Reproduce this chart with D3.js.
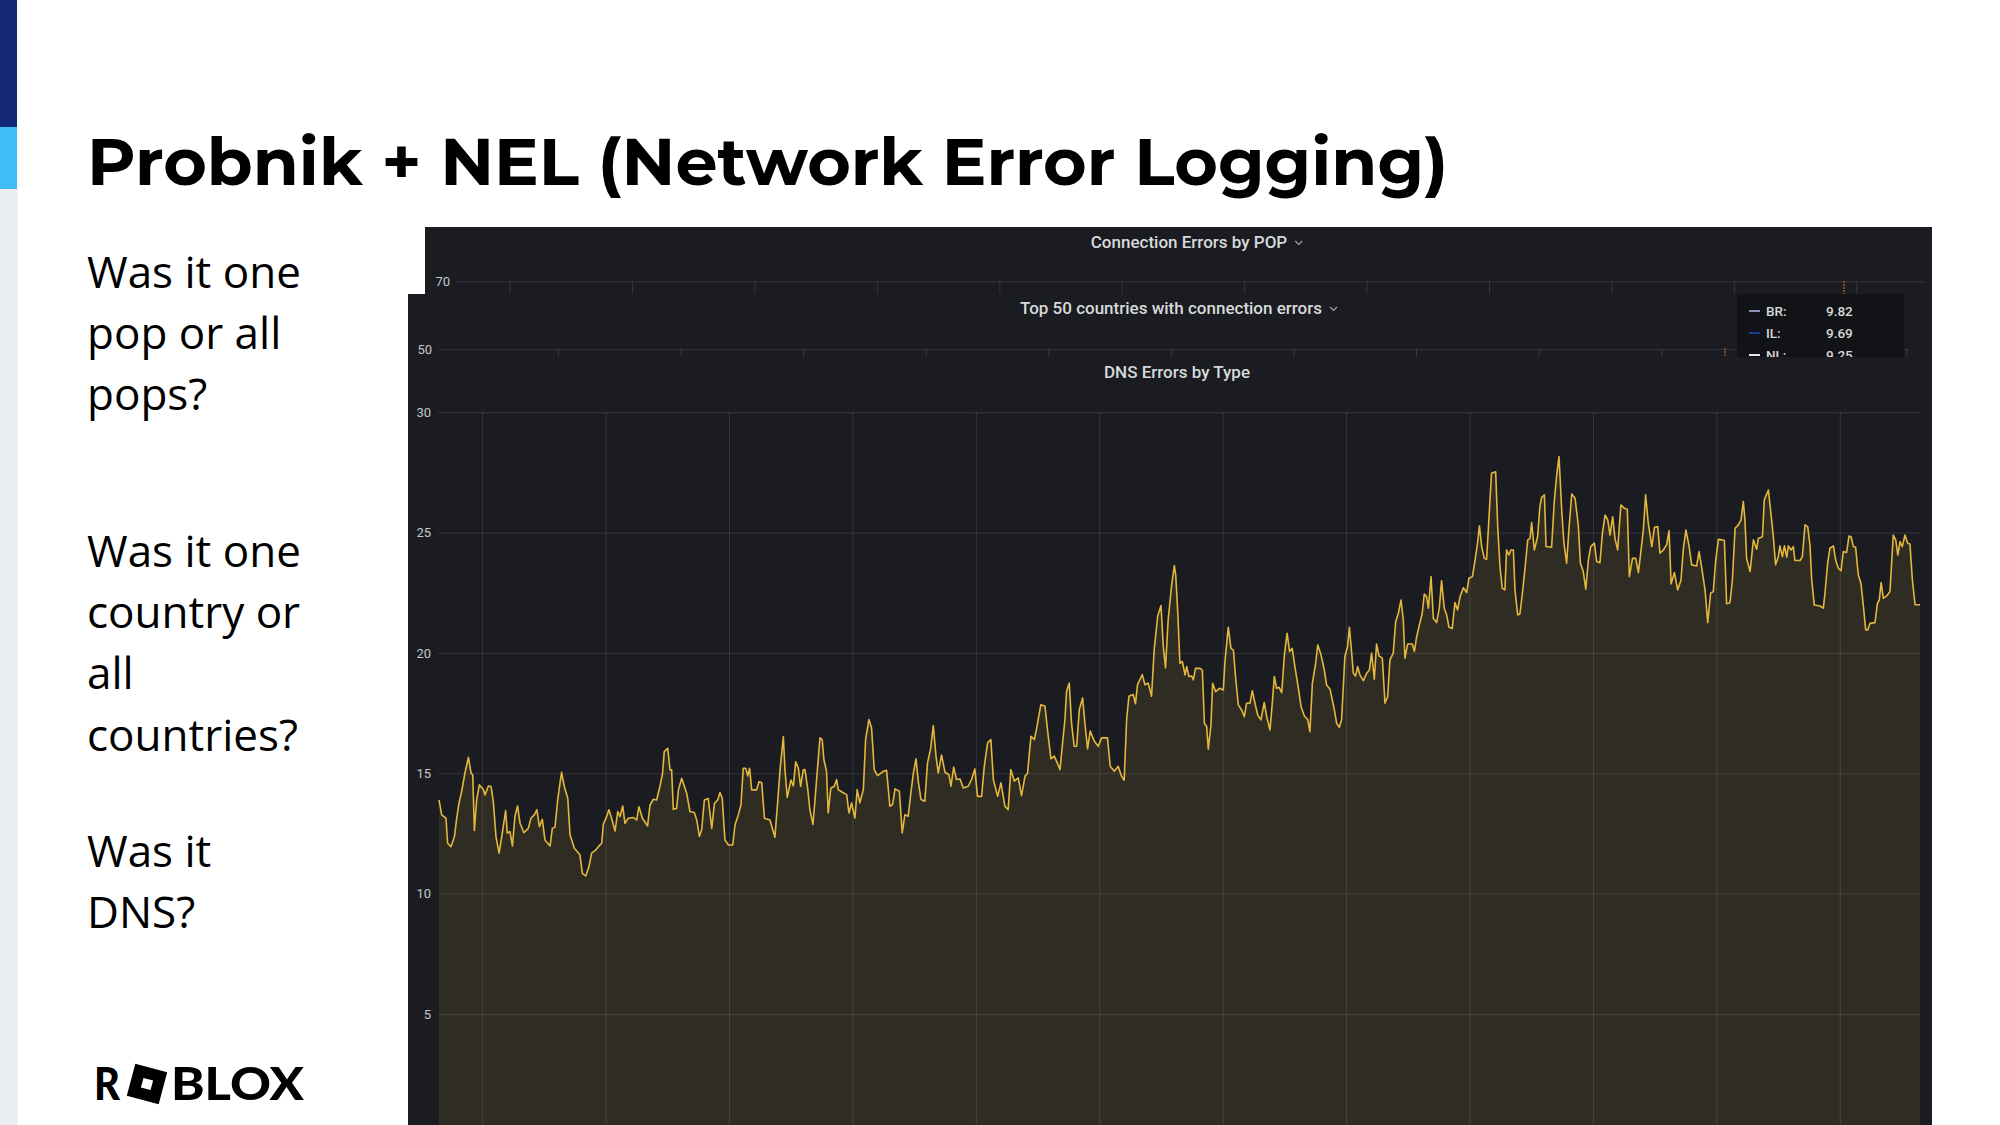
<!DOCTYPE html>
<html><head><meta charset="utf-8">
<script src="https://cdn.jsdelivr.net/npm/d3@7"></script>
<style>html,body{margin:0;padding:0;background:#fff;overflow:hidden}svg{display:block}</style>
</head><body>
<svg id="c" width="2000" height="1125"></svg>
<script>
// ---------- data ----------
const slideTitle = "Probnik + NEL (Network Error Logging)";
const questionBlocks = [["Was it one","pop or all","pops?"],["Was it one","country or","all","countries?"],["Was it","DNS?"]];
const panelTitles = ["Connection Errors by POP","Top 50 countries with connection errors","DNS Errors by Type"];
const popTicks = [70];
const countryTicks = [50];
const dnsTicks = [5,10,15,20,25,30];
const legendLabels = ["GB:","BR:","IL:","NL:"];
const legendValues = ["10.12","9.82","9.69","9.25"];
const legendColors = ["#6e9fd0","#8f8fb8","#1f3a8f","#e8e8e8"];
// DNS errors series: minutes after window start, values
const dnsMinutes = [0,1.3,3.4,4.2,5.8,7.5,8.6,9.7,11.0,12.6,14.3,15.6,16.4,17.2,18.3,19.6,21.6,22.4,24.0,25.3,26.4,27.7,29.2,30.5,32.4,33.2,34.5,35.7,36.9,38.2,39.4,41.3,43.4,44.7,46.3,47.6,48.8,50.2,51.5,54.0,55.1,56.4,57.7,58.8,59.6,60.9,62.6,63.7,65.8,68.5,69.7,71.3,72.9,74.2,76.2,77.8,79.1,79.9,81.5,82.6,83.9,85.6,86.9,88.0,89.3,90.4,92.0,94.5,96.1,97.2,98.9,101.4,102.6,104.2,105.8,107.4,108.7,109.5,111.2,112.3,113.1,113.9,115.5,116.4,118.0,119.3,120.4,122.0,124.1,125.3,126.6,127.7,129.0,130.9,132.6,133.9,135.5,136.6,137.7,139.0,140.7,142.8,143.9,145.5,146.8,147.9,149.1,150.1,151.0,152.0,154.4,155.6,156.9,158.2,160.9,163.3,164.6,165.8,167.4,168.2,169.3,171.1,172.3,173.4,174.7,175.8,177.1,
177.9,179.2,180.3,181.8,182.8,184.1,185.2,186.3,187.1,188.4,189.2,190.5,192.2,193.3,194.1,196.1,198.2,199.3,200.6,202.2,203.3,204.6,206.3,207.4,209.0,210.3,211.6,213.2,216.0,217.6,219.2,220.5,221.7,223.8,225.2,226.5,228.1,229.4,230.6,231.9,233.0,234.3,236.2,237.5,239.0,240.3,241.6,242.7,244.3,246.0,247.9,248.9,250.2,251.6,253.3,254.9,257.3,258.9,260.5,261.8,263.8,265.1,266.7,268.3,269.5,271.6,273.2,275.1,276.7,278.0,279.7,281.6,283.2,284.9,286.1,287.8,289.4,290.5,292.6,294.6,295.9,297.5,299.1,300.6,301.9,303.0,304.3,305.1,306.4,307.5,308.8,310.0,311.3,312.9,314.0,315.3,316.6,318.6,320.5,322.1,325.0,326.3,328.3,330.2,331.8,333.1,334.3,335.4,337.5,338.6,339.6,341.9,343.2,344.8,346.4,347.7,349.4,351.0,352.1,353.2,354.5,356.2,357.5,358.2,359.2,360.2,
361.4,362.7,363.5,364.6,365.9,366.7,367.8,370.0,371.1,372.1,373.2,374.0,375.3,376.1,377.6,379.4,381.3,382.1,383.7,385.0,386.2,387.3,388.6,390.2,391.5,392.6,394.3,395.4,396.7,398.0,399.6,401.2,402.4,404.0,405.1,406.1,407.2,408.4,409.7,411.0,412.3,413.5,414.8,416.1,417.8,419.1,420.7,422.3,423.4,424.6,426.2,427.2,428.8,430.4,431.5,433.2,435.3,436.4,437.7,438.8,440.4,441.7,442.6,443.7,444.5,445.6,446.6,447.7,449.4,451.0,452.3,453.4,454.7,455.8,457.0,458.6,459.9,461.2,462.3,463.9,465.1,466.4,467.7,468.8,469.6,470.9,473.2,474.2,475.3,476.9,478.0,479.0,480.1,481.0,482.3,483.4,485.0,486.3,487.4,488.7,489.9,491.0,492.6,493.9,495.2,496.4,498.0,499.6,500.7,502.4,503.6,504.9,505.8,506.9,508.2,509.3,510.4,511.7,513.7,514.7,515.8,516.9,518.2,519.0,520.2,521.1,522.3,523.1,524.4,525.5,526.7,527.9,529.3,530.4,531.2,532.5,534.1,535.2,536.1,537.4,538.2,540.9,
542.2,543.4,544.5,545.0,545.8,546.9,548.2,549.4,550.7,552.3,553.9,554.9,556.3,557.5,558.8,559.9,561.7,562.8,564.4,565.6,566.9,568.2,569.3,570.6,571.7,573.0,574.6,576.3,577.7,578.7,580.2,581.8,583.1,584.2,585.5,586.6,587.9,589.6,590.9,592.5,593.6,595.2,596.8,598.0,599.0,600.6,602.2,603.8,604.9,606.2,607.7,609.0,611.4,612.6,613.9,615.5,616.8,618.2,619.5,620.7,622.0,623.6,624.9,626.0,627.6,628.8,630.1,631.7,633.0,634.1,634.9,635.7,637.4,639.0,640.6,641.4,643.4,644.3,646.3,647.6,648.7,649.8,651.1,651.9,653.1,654.1,655.2,656.0,657.3,658.4,659.2,661.7,662.8,664.1,665.4,666.5,667.3,668.6,671.4,673.0,673.8,675.1,676.2,677.9,679.0,680.3,681.6,682.7,684.3,685.5,686.5,687.6,688.7,690.0,691.3,692.5,693.6,694.6,695.7,698.1,699.3,700.2,701.1,702.2,703.8,705.4,707.0,708.2,709.2,710.3,711.4,712.7,714.0,715.1,716.3,717.6,720.0];
const dnsValues = [13.89,13.27,13.13,12.09,11.95,12.37,13.13,13.75,14.24,15.0,15.66,15.0,14.93,12.62,13.89,14.52,14.31,14.1,14.47,14.45,13.82,12.37,11.68,12.37,13.45,12.51,12.58,11.98,13.2,13.64,12.92,12.53,12.71,13.13,13.27,13.48,12.78,13.09,12.23,11.98,12.71,12.76,13.89,14.58,15.04,14.45,13.96,12.44,11.88,11.61,10.84,10.73,11.12,11.68,11.81,11.98,12.09,12.89,13.2,13.48,13.13,12.6,13.41,13.2,13.64,12.92,13.13,13.16,13.06,13.61,13.13,12.81,13.68,13.92,13.89,14.45,15.0,15.9,16.04,15.14,15.14,13.5,13.54,14.31,14.79,14.45,14.17,13.41,13.37,13.06,12.37,12.65,13.89,13.95,12.71,13.75,13.89,14.2,13.96,12.23,12.02,12.02,12.85,13.27,13.68,15.21,15.21,14.89,15.21,14.31,14.31,14.65,14.61,13.13,13.06,12.34,13.75,15.14,16.52,15.14,14.0,14.72,14.47,15.48,15.21,14.45,15.14,
15.15,14.39,13.49,12.87,13.91,15.29,16.47,16.4,15.57,15.08,13.35,14.39,14.46,14.74,14.32,14.21,14.11,13.35,13.77,13.14,14.32,13.77,14.32,16.4,17.23,16.88,15.15,14.9,15.08,15.12,13.63,13.7,14.35,14.25,12.52,13.28,13.21,14.18,14.99,15.6,14.67,13.91,13.84,15.43,16.01,16.98,15.73,15.01,15.76,15.04,14.94,14.46,15.26,14.74,14.76,14.39,14.46,14.74,15.18,14.04,14.04,15.29,16.26,16.4,14.74,14.04,14.6,13.63,13.49,15.15,14.67,14.81,14.07,14.88,14.99,16.54,16.4,16.84,17.85,17.78,16.75,15.6,15.71,15.43,15.15,16.12,17.23,18.41,18.75,17.09,16.12,16.12,17.65,18.13,17.09,16.01,16.75,16.33,16.12,16.47,16.47,15.29,15.08,15.29,14.88,14.71,17.23,18.2,18.27,17.89,18.68,19.1,18.68,18.75,18.2,20.14,21.52,21.97,20.28,19.38,21.39,22.84,23.63,23.2,21.6,19.57,
19.64,19.09,19.43,19.02,19.04,18.88,19.36,19.36,19.29,17.08,16.94,16.0,17.01,18.74,18.39,18.53,18.46,19.64,21.07,20.19,20.12,18.95,17.84,17.63,17.35,17.91,17.91,18.43,17.91,17.42,17.22,17.94,17.35,16.8,17.91,19.02,18.53,18.57,18.35,19.92,20.82,20.06,20.19,19.43,18.53,17.77,17.38,17.24,16.73,18.74,19.57,20.33,19.92,19.29,18.67,18.49,17.63,17.08,16.91,17.22,19.85,20.26,21.07,19.99,19.16,19.04,19.43,19.09,18.85,19.16,19.29,19.99,18.91,20.37,19.88,19.78,17.91,18.19,19.71,19.99,21.3,21.65,22.2,21.37,19.78,20.37,20.37,20.06,20.68,21.26,21.65,22.45,22.34,21.86,23.17,21.44,21.26,21.86,23.0,21.86,21.58,21.07,21.02,22.09,21.79,22.34,22.71,22.51,23.1,23.17,23.8,24.56,25.28,24.42,23.93,23.89,25.53,27.47,27.53,25.25,23.59,22.69,22.62,24.28,24.07,24.28,24.28,22.62,21.58,21.62,22.48,23.45,24.7,24.76,25.42,24.28,24.83,26.08,26.47,26.57,24.42,24.39,
26.29,27.4,28.16,27.33,25.94,24.56,23.73,25.22,26.61,26.43,25.28,23.73,23.38,22.65,23.86,24.42,24.56,23.8,23.75,24.97,25.73,25.53,24.9,25.66,24.76,24.28,26.15,26.01,25.97,23.17,23.93,23.93,23.34,24.14,25.11,26.57,25.39,24.42,25.22,25.25,24.14,24.28,24.49,25.08,22.87,23.34,22.62,23.03,24.28,25.11,24.45,23.66,23.61,24.21,23.52,22.62,21.26,22.48,22.55,23.86,24.72,24.7,24.67,22.04,22.09,23.03,25.18,25.32,25.53,26.29,25.53,23.93,23.38,24.7,24.31,24.76,24.83,26.36,26.77,25.73,24.83,23.66,24.0,24.45,24.0,24.45,23.98,24.45,24.28,24.42,23.84,23.84,24.0,25.32,25.25,24.49,23.1,21.99,21.95,21.86,22.48,23.73,24.35,24.45,23.86,23.52,23.42,24.21,24.17,24.86,24.83,24.42,24.39,23.24,22.89,21.93,20.96,20.96,21.23,21.26,22.06,22.2,22.92,22.27,22.37,22.55,24.9,24.7,24.07,24.63,24.42,24.9,24.56,24.53,23.03,22.0,22.0];

// ---------- setup ----------
const svg = d3.select("#c");
const MIN = 60000;
const dnsStart = new Date(2021, 9, 28, 8, 39);
const dnsData = dnsMinutes.map((m, i) => ({t: new Date(+dnsStart + m * MIN), v: dnsValues[i]}));

// slide decorations
svg.append("rect").attr("x",0).attr("y",0).attr("width",2000).attr("height",1125).attr("fill","#ffffff");
svg.append("rect").attr("x",0).attr("y",189).attr("width",18).attr("height",936).attr("fill","#ebeff4");
svg.append("rect").attr("x",0).attr("y",0).attr("width",17).attr("height",127).attr("fill","#142878");
svg.append("rect").attr("x",0).attr("y",127).attr("width",17).attr("height",62).attr("fill","#3fbdf6");

svg.append("text").attr("x",87).attr("y",185)
  .attr("font-family","Montserrat, 'Open Sans', sans-serif").attr("font-weight",700)
  .attr("font-size",66).attr("fill","#000")
  .attr("textLength",1361).attr("lengthAdjust","spacingAndGlyphs")
  .text(slideTitle);

const blockTop = [288, 567, 867];
questionBlocks.forEach((lines, b) => {
  lines.forEach((l, i) => {
    svg.append("text").attr("x",87).attr("y",blockTop[b] + i*61.2)
      .attr("font-family","'Open Sans', sans-serif").attr("font-size",44)
      .attr("fill","#000").text(l);
  });
});

// Roblox logo
const logo = svg.append("g");
logo.append("text").attr("x",94).attr("y",1100).attr("font-family","Lato, 'Open Sans', sans-serif")
  .attr("font-weight",900).attr("font-size",46).attr("textLength",26).attr("lengthAdjust","spacingAndGlyphs").text("R");
logo.append("rect").attr("x",-16.5).attr("y",-16.5).attr("width",33).attr("height",33).attr("fill","#000")
  .attr("transform","translate(147,1084) rotate(15)");
logo.append("rect").attr("x",-5).attr("y",-5).attr("width",10).attr("height",10).attr("fill","#fff")
  .attr("transform","translate(147,1084) rotate(15)");
logo.append("text").attr("x",171).attr("y",1100).attr("font-family","Lato, 'Open Sans', sans-serif")
  .attr("font-weight",900).attr("font-size",46).attr("textLength",133).attr("lengthAdjust","spacingAndGlyphs").text("BLOX");

// ---------- dashboard panels ----------
const PANEL_BG = "#1a1c21";
const GRID = "rgba(204,204,220,0.15)";
const TXT = "#d8d9da";
const AXTXT = "#c4c7cc";

function panelTitle(txt, cx, y, chevron) {
  const t = svg.append("text").attr("x",cx).attr("y",y).attr("text-anchor","middle")
    .attr("font-family","Roboto, sans-serif").attr("font-weight",500).attr("font-size",17)
    .attr("fill",TXT).text(txt);
  if (chevron) {
    const w = t.node().getComputedTextLength();
    const x0 = cx + w/2 + 8;
    svg.append("path").attr("d",`M${x0},${y-7} l3.5,3.5 l3.5,-3.5`).attr("fill","none")
      .attr("stroke","#9fa3a8").attr("stroke-width",1.2);
  }
}

function styleAxis(g) {
  g.select(".domain").remove();
  g.selectAll(".tick line").attr("stroke",GRID).attr("stroke-width",1);
  g.selectAll(".tick text").attr("fill",AXTXT).attr("font-family","Roboto, sans-serif").attr("font-size",13);
}

// Panel 1: Connection Errors by POP
svg.append("rect").attr("x",425).attr("y",227).attr("width",1507).attr("height",200).attr("fill",PANEL_BG);
const popStart = new Date(2021, 9, 28, 8, 33, 42);
const xPop = d3.scaleTime().domain([popStart, new Date(+popStart + 720*MIN)]).range([456, 1925]);
const yPop = d3.scaleLinear().domain([0, 70]).range([1000, 281.3]);
svg.append("g").attr("transform","translate(0,1000)")
  .call(d3.axisBottom(xPop).ticks(d3.timeHour.every(1)).tickSize(-(1000-281.3)).tickFormat(""))
  .call(styleAxis);
svg.append("g").attr("transform","translate(456,0)")
  .call(d3.axisLeft(yPop).tickValues(popTicks).tickSize(-(1925-456)).tickPadding(6))
  .call(styleAxis);
svg.append("line").attr("x1",xPop(new Date(2021,9,28,19,54))).attr("x2",xPop(new Date(2021,9,28,19,54)))
  .attr("y1",281).attr("y2",300).attr("stroke","#e0752d").attr("stroke-width",1).attr("stroke-dasharray","2,1");
panelTitle(panelTitles[0], 1189, 248, true);

// Panel 2: Top 50 countries
svg.append("rect").attr("x",408).attr("y",294).attr("width",1524).attr("height",200).attr("fill",PANEL_BG);
const ctyStart = new Date(2021, 9, 28, 8, 1, 18);
const xCty = d3.scaleTime().domain([ctyStart, new Date(+ctyStart + 720*MIN)]).range([438, 1909]);
const yCty = d3.scaleLinear().domain([0, 50]).range([1000, 349.3]);
svg.append("g").attr("transform","translate(0,1000)")
  .call(d3.axisBottom(xCty).ticks(d3.timeHour.every(1)).tickSize(-(1000-349.3)).tickFormat(""))
  .call(styleAxis);
svg.append("g").attr("transform","translate(438,0)")
  .call(d3.axisLeft(yCty).tickValues(countryTicks).tickSize(-(1909-438)).tickPadding(6))
  .call(styleAxis);
svg.append("line").attr("x1",1725).attr("x2",1725).attr("y1",348).attr("y2",360)
  .attr("stroke","#e0752d").attr("stroke-width",1).attr("stroke-dasharray","2,1");
panelTitle(panelTitles[1], 1171, 314, true);

// legend box
const lg = svg.append("g");
svg.append("clipPath").attr("id","lgclip").append("rect").attr("x",1737).attr("y",294).attr("width",167).attr("height",63);
lg.attr("clip-path","url(#lgclip)");
lg.append("rect").attr("x",1737).attr("y",294).attr("width",167).attr("height",63).attr("fill","#121317");
legendLabels.forEach((l, i) => {
  const cy = 289 + i*22;
  lg.append("line").attr("x1",1749).attr("x2",1760).attr("y1",cy).attr("y2",cy)
    .attr("stroke",legendColors[i]).attr("stroke-width",2);
  lg.append("text").attr("x",1766).attr("y",cy+4.5).attr("font-family","Roboto, sans-serif")
    .attr("font-weight",500).attr("font-size",13.5).attr("fill",TXT).text(l);
  lg.append("text").attr("x",1826).attr("y",cy+4.5).attr("font-family","Roboto, sans-serif")
    .attr("font-weight",500).attr("font-size",13.5).attr("fill",TXT).text(legendValues[i]);
});

// Panel 3: DNS Errors by Type
svg.append("rect").attr("x",408).attr("y",357).attr("width",1524).attr("height",800).attr("fill",PANEL_BG);
const x = d3.scaleTime().domain([dnsStart, new Date(+dnsStart + 720*MIN)]).range([439, 1920]);
const y = d3.scaleLinear().domain([0, 30]).range([1134.2, 412.3]);
const bottomY = y(0);
svg.append("g").attr("transform",`translate(0,${bottomY})`)
  .call(d3.axisBottom(x).ticks(d3.timeHour.every(1)).tickSize(-(bottomY - y(30))).tickFormat(""))
  .call(styleAxis);
svg.append("g").attr("transform","translate(438,0)")
  .call(d3.axisLeft(y).tickValues(dnsTicks).tickSize(-(1920-438)).tickPadding(7))
  .call(styleAxis);

svg.append("path").datum(dnsData)
  .attr("d", d3.area().x(d => x(d.t)).y0(bottomY).y1(d => y(d.v)))
  .attr("fill","#eab839").attr("fill-opacity",0.1);
svg.append("path").datum(dnsData)
  .attr("d", d3.line().x(d => x(d.t)).y(d => y(d.v)))
  .attr("fill","none").attr("stroke","#e3b73c").attr("stroke-width",1.6).attr("stroke-linejoin","round");
panelTitle(panelTitles[2], 1177, 378, false);
</script>
</body></html>
